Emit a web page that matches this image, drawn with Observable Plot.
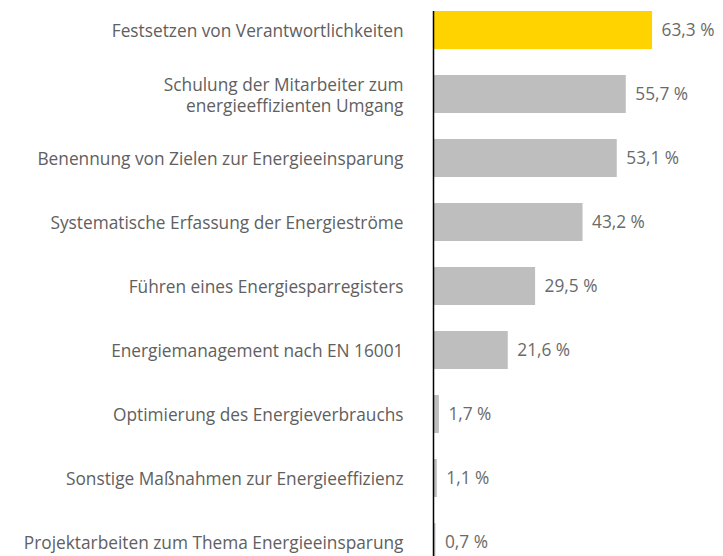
<!DOCTYPE html>
<html>
<head>
<meta charset="utf-8">
<script src="https://cdn.jsdelivr.net/npm/d3@7"></script>
<script src="https://cdn.jsdelivr.net/npm/@observablehq/plot@0.6"></script>
<style>
  html, body { margin: 0; padding: 0; background: #fff; overflow: hidden; }
  #chart svg { display: block; }
</style>
</head>
<body>
<div id="chart"></div>
<script>
const labels = [
  "Festsetzen von Verantwortlichkeiten",
  "Schulung der Mitarbeiter zum\nenergieeffizienten Umgang",
  "Benennung von Zielen zur Energieeinsparung",
  "Systematische Erfassung der Energieströme",
  "Führen eines Energiesparregisters",
  "Energiemanagement nach EN 16001",
  "Optimierung des Energieverbrauchs",
  "Sonstige Maßnahmen zur Energieeffizienz",
  "Projektarbeiten zum Thema Energieeinsparung"
];
const values = [63.3, 55.7, 53.1, 43.2, 29.5, 21.6, 1.7, 1.1, 0.7];
const highlight = [true, false, false, false, false, false, false, false, false];

const data = labels.map((label, i) => ({label, value: values[i], hi: highlight[i]}));
const fmt = v => v.toFixed(1).replace(".", ",") + " %";

const plot = Plot.plot({
  width: 723,
  height: 556,
  marginLeft: 433,
  marginRight: 0,
  marginTop: 11,
  marginBottom: 0,
  style: {fontFamily: "'Open Sans', sans-serif", background: "#fff"},
  x: {domain: [0, 83.8], axis: null},
  y: {domain: labels, range: [4.6, 567.4], paddingInner: 0.40625, paddingOuter: 0.1, axis: null},
  color: {domain: [true, false], range: ["#FFD300", "#BEBEBF"]},
  marks: [
    Plot.barX(data, {x: "value", y: "label", fill: "hi"}),
    Plot.ruleX([0], {stroke: "#000", strokeWidth: 1.5}),
    Plot.text(data, {x: 0, y: "label", text: "label", textAnchor: "end", dx: -30, fontSize: 17.3, fill: "#606060", lineHeight: 1.25}),
    Plot.text(data, {x: "value", y: "label", text: d => fmt(d.value), textAnchor: "start", dx: 9, fontSize: 17.3, fill: "#6a6a6a"})
  ]
});
document.getElementById("chart").appendChild(plot);
</script>
</body>
</html>
